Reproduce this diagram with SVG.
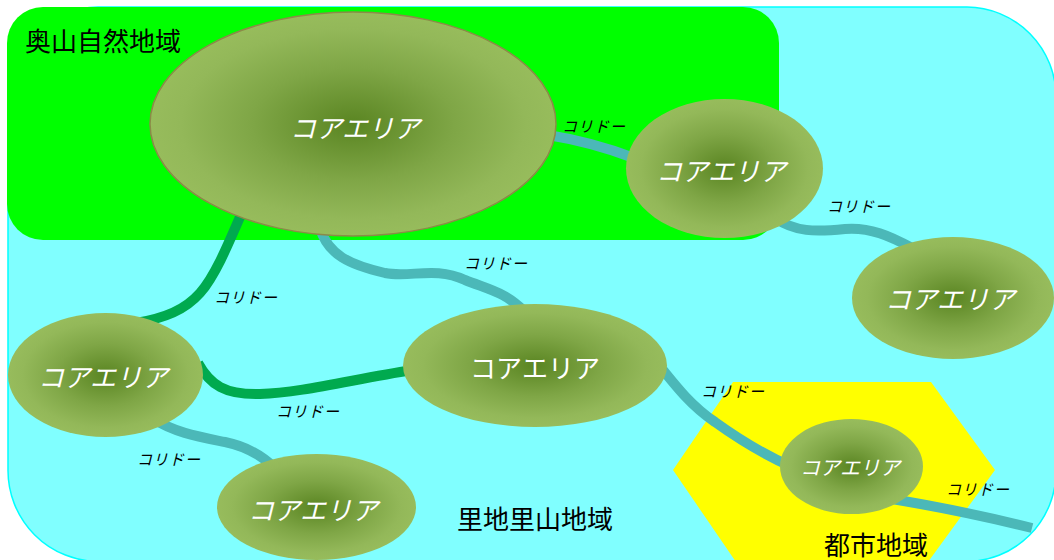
<svg xmlns="http://www.w3.org/2000/svg" width="1054" height="560" viewBox="0 0 1054 560">
  <style>
    .jp { font-family: "Noto Sans CJK JP", "Noto Sans CJK SC", sans-serif; }
    .core { fill: url(#coreGrad); }
    .coreText { fill: #ffffff; font-size: 26px; font-style: italic; text-anchor: middle; }
    .region { fill: #000000; font-size: 26px; }
    .corLabel { fill: #000000; font-size: 15px; font-style: italic; letter-spacing: 1px; }
    .teal { fill: none; stroke: #4BB8B8; stroke-width: 10; }
    .green { fill: none; stroke: #00AA4F; stroke-width: 10; }
  </style>
  <defs>
    <radialGradient id="coreGrad" cx="0.5" cy="0.5" r="0.5">
      <stop offset="0" stop-color="#5A8522"/>
      <stop offset="0.5" stop-color="#7FA646"/>
      <stop offset="0.85" stop-color="#93B859"/>
      <stop offset="1" stop-color="#97BC5C"/>
    </radialGradient>
  </defs>

  <g id="region-satochi">
    <path d="M 98,7 L 967,7 A 90 90 0 0 1 1056,97 L 1056,472 A 90 90 0 0 1 966,561.5 L 99,561.5 A 91 91 0 0 1 8,470 L 8,97 A 90 90 0 0 1 98,7 Z" fill="#80FFFF" stroke="#00FFFF" stroke-width="1.5"/>
  </g>
  <g id="region-okuyama">
    <rect x="7" y="7" width="772" height="233" rx="36" ry="36" fill="#00FF00"/>
  </g>
  <g id="region-toshi">
    <polygon points="733,382 931,382 995,470 928,562 736,562 673,470" fill="#FFFF00"/>
  </g>

  <g id="corridors">
    <path class="teal" d="M 548,135 Q 592,142 634,158"/>
    <path class="teal" d="M 775,218 C 795,232 815,232 845,229 C 870,227 890,236 912,248"/>
    <path class="teal" d="M 320,228 C 328,255 350,265 385,273 C 410,278 435,266 465,280 C 490,290 505,292 525,312"/>
    <path class="green" d="M 246,203 C 230,240 216,275 200,293 C 185,310 165,318 136,323"/>
    <path class="green" d="M 198,363 C 210,385 225,395 260,394 C 300,393 350,380 412,370"/>
    <path class="teal" d="M 152,418 C 175,433 200,437 225,442 C 245,446 262,455 277,470"/>
    <path class="teal" d="M 655,360 C 675,385 690,405 715,422 C 740,440 765,455 792,467"/>
    <path class="teal" d="M 880,497 Q 960,510 1032,528"/>
  </g>

  <g id="core-1">
    <ellipse class="core" cx="353" cy="124" rx="203" ry="112" stroke="#8C8A48" stroke-width="1.5"/>
    <text class="jp coreText" x="355" y="138">コアエリア</text>
  </g>
  <g id="core-2">
    <ellipse class="core" cx="724.5" cy="168.5" rx="98.5" ry="69.5"/>
    <text class="jp coreText" x="721" y="181">コアエリア</text>
  </g>
  <g id="core-3">
    <ellipse class="core" cx="953" cy="298" rx="101" ry="61"/>
    <text class="jp coreText" x="950" y="309">コアエリア</text>
  </g>
  <g id="core-4">
    <ellipse class="core" cx="535" cy="365.5" rx="132" ry="61.5"/>
    <text class="jp coreText" x="535" y="378" style="font-style:normal">コアエリア</text>
  </g>
  <g id="core-5">
    <ellipse class="core" cx="105.5" cy="375" rx="97.5" ry="62"/>
    <text class="jp coreText" x="103" y="387">コアエリア</text>
  </g>
  <g id="core-6">
    <ellipse class="core" cx="316.5" cy="507" rx="99.5" ry="53"/>
    <text class="jp coreText" x="313" y="520">コアエリア</text>
  </g>
  <g id="core-7">
    <ellipse class="core" cx="851.5" cy="466.5" rx="71.5" ry="47.5"/>
    <text class="jp coreText" x="850" y="475" style="font-size:20px">コアエリア</text>
  </g>

  <g id="region-labels">
    <text class="jp region" x="25" y="51">奥山自然地域</text>
    <text class="jp region" x="457" y="529">里地里山地域</text>
    <text class="jp region" x="824" y="555">都市地域</text>
  </g>

  <g id="corridor-labels">
    <text class="jp corLabel" x="562" y="132">コリドー</text>
    <text class="jp corLabel" x="827" y="212">コリドー</text>
    <text class="jp corLabel" x="464" y="269">コリドー</text>
    <text class="jp corLabel" x="214" y="303">コリドー</text>
    <text class="jp corLabel" x="276" y="417">コリドー</text>
    <text class="jp corLabel" x="137" y="465">コリドー</text>
    <text class="jp corLabel" x="701" y="397">コリドー</text>
    <text class="jp corLabel" x="946" y="495">コリドー</text>
  </g>
</svg>
